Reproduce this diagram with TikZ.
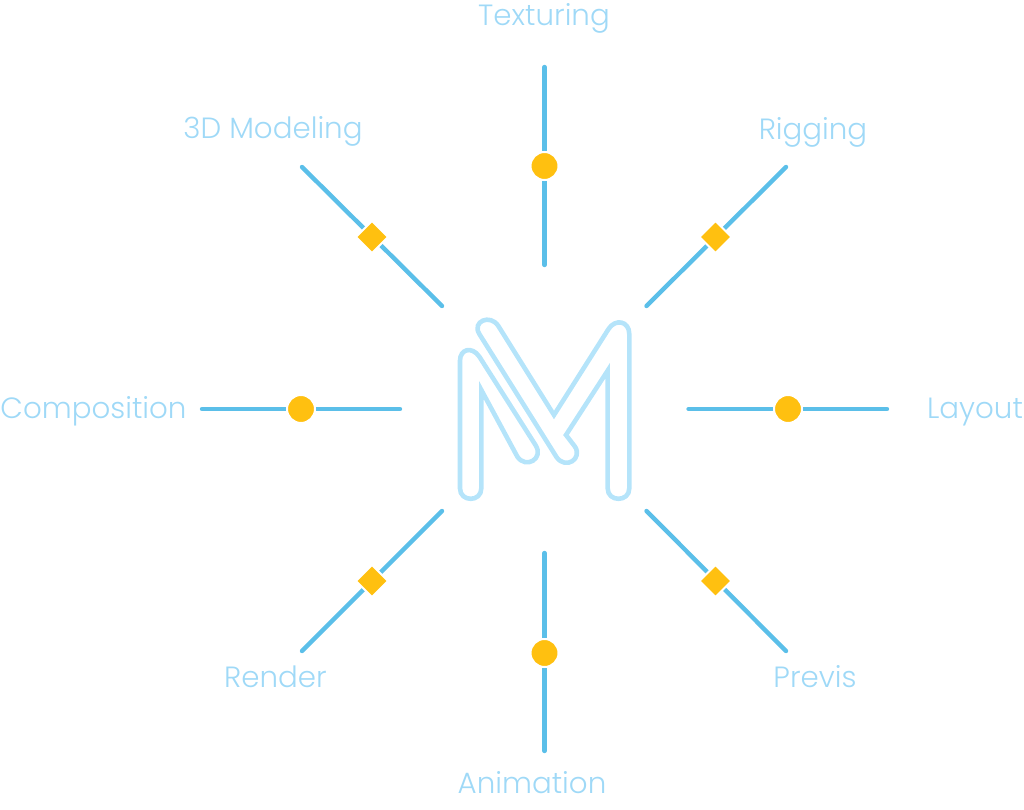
\documentclass[tikz,border=0pt]{standalone}
\usepackage{fontspec}
\setmainfont{Poppins}[UprightFont=* Light]
\usetikzlibrary{shapes.geometric}
\definecolor{spoke}{HTML}{5BBFE9}
\definecolor{mark}{HTML}{FFC010}
\definecolor{labelc}{HTML}{9FD9F7}
\definecolor{logo}{HTML}{B5E4FA}
\tikzset{
  x=1pt,y=-1pt,
  spokeline/.style={draw=spoke,line width=4.4pt,line cap=round},
  dotm/.style={circle,fill=mark,draw=white,line width=2pt,minimum size=28pt,inner sep=0pt,outer sep=0pt},
  diam/.style={diamond,aspect=1,fill=mark,draw=white,line width=2pt,minimum size=32pt,inner sep=0pt,outer sep=0pt},
  lab/.style={text=labelc,font=\fontsize{29.3}{33}\selectfont,inner sep=0pt,anchor=base},
  logoline/.style={draw=logo,line width=4.6pt,line join=miter}
}
\begin{document}
\begin{tikzpicture}
\useasboundingbox (0,0) rectangle (1024,810);
\foreach \n/\ax/\ay/\bx/\by in {t/544.5/67/544.5/265,b/544.5/553/544.5/751,l/202/409/400/409,r/688.5/409/887/409,tr/786/167/646.5/306,tl/302/167/442/306,bl/302/651/442/511,br/786/651/646.5/511}{
  \coordinate (\n a) at (\ax,\ay);
  \coordinate (\n b) at (\bx,\by);
  \draw[spokeline] (\n a) -- (\n b);
}
\node[dotm] (mt) at (544.5,166) {};
\node[dotm] (mb) at (544.5,653) {};
\node[dotm] (ml) at (301,409) {};
\node[dotm] (mr) at (788,409) {};
\node[diam] (mtr) at (715.5,237) {};
\node[diam] (mtl) at (372,237) {};
\node[diam] (mbl) at (372,581) {};
\node[diam] (mbr) at (715.5,581) {};
\node[lab] (n1) at (544,26) {Texturing};
\node[lab] (n2) at (273,139) {3D Modeling};
\node[lab] (n3) at (813,140) {Rigging};
\node[lab] (n4) at (93.5,418) {Composition};
\node[lab] (n5) at (975,418) {Layout};
\node[lab] (n6) at (275.5,687) {Render};
\node[lab] (n7) at (815,687) {Previs};
\node[lab] (n8) at (532,793) {Animation};
\begin{scope}[shift={(440,300)},x=0.3333pt,y=-0.3333pt]
\draw[logoline] (60,182) -- (60,565) .. controls (60,607) and (124,607) .. (124,565) -- (124,270) -- (232,470)
  .. controls (258,508) and (312,476) .. (287,436) -- (118,170) .. controls (95,137) and (60,148) .. (60,182) -- cycle;
\draw[logoline] (118,102) -- (350,472) .. controls (378,510) and (428,476) .. (405,440) -- (378,405) -- (503,212) -- (503,565)
  .. controls (503,607) and (568,607) .. (568,565) -- (568,103) .. controls (568,62) and (525,55) .. (505,88) -- (342,345) -- (175,78)
  .. controls (150,40) and (95,65) .. (118,102) -- cycle;
\end{scope}
\end{tikzpicture}
\end{document}
